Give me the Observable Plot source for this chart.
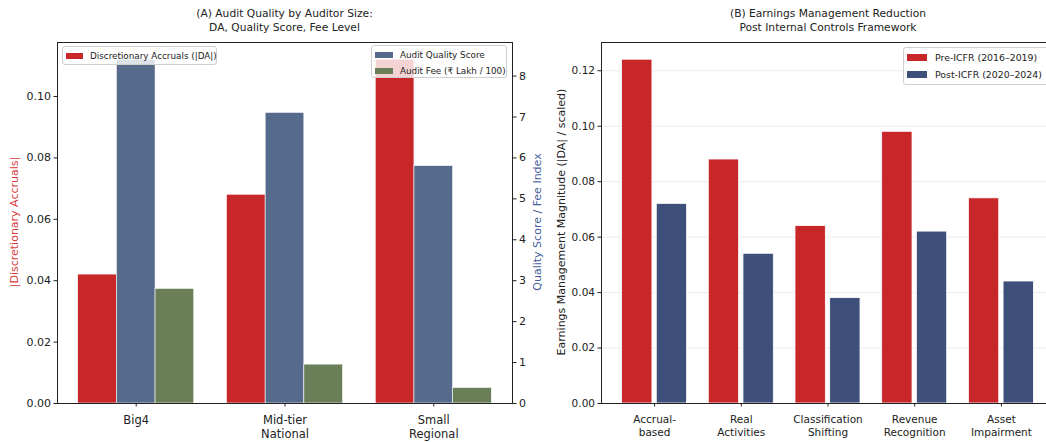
<!DOCTYPE html>
<html>
<head>
<meta charset="utf-8">
<script src="https://cdn.jsdelivr.net/npm/d3@7"></script>
<script src="https://cdn.jsdelivr.net/npm/@observablehq/plot@0.6"></script>
<style>
  html, body { margin: 0; padding: 0; background: #fff; overflow: hidden; }
  #root { position: relative; width: 1046px; height: 442px; font-family: "DejaVu Sans", sans-serif; color: #222; }
  .title { position: absolute; font-size: 10.7px; text-align: center; line-height: 14px; white-space: nowrap; transform: translateX(-50%); }
  .ylab { position: absolute; font-size: 11px; white-space: nowrap; transform: translate(-50%, -50%) rotate(-90deg); }
  .legend { position: absolute; background: rgba(255,255,255,0.8); border: 1px solid #d0d0d0; border-radius: 3px; box-sizing: border-box; }
  .entry { position: absolute; white-space: nowrap; display: flex; align-items: center; }
  .sw { display: inline-block; }
  svg { position: absolute; top: 0; overflow: visible; }
</style>
</head>
<body>
<div id="root"></div>
<script>
// ---------- Data: panel A ----------
const auditorSizes = ["Big4", "Mid-tier\nNational", "Small\nRegional"];
const discretionaryAccruals = [0.042, 0.068, 0.112];
const auditQualityScore = [8.4, 7.1, 5.8];
const auditFee = [2.8, 0.95, 0.38];
const leftTicks = [0, 0.02, 0.04, 0.06, 0.08, 0.10];
const rightTicks = [0, 1, 2, 3, 4, 5, 6, 7, 8];

// ---------- Data: panel B ----------
const emTypes = ["Accrual-\nbased", "Real\nActivities", "Classification\nShifting", "Revenue\nRecognition", "Asset\nImpairment"];
const preICFR = [0.124, 0.088, 0.064, 0.098, 0.074];
const postICFR = [0.072, 0.054, 0.038, 0.062, 0.044];
const bTicks = [0, 0.02, 0.04, 0.06, 0.08, 0.10, 0.12];

const RED = "#c8272a", BLUE_A = "#566a8b", GREEN = "#6a7f57", BLUE_B = "#3e5079";
const FONT = "DejaVu Sans";
const root = document.getElementById("root");

// ---------- Panel A ----------
{
  const W = 525, H = 442;
  const leftMax = d3.max(discretionaryAccruals) * 1.05;
  const rightMax = d3.max(auditQualityScore) * 1.05;
  const k = leftMax / rightMax;
  const bw = 0.26;
  const rows = [];
  auditorSizes.forEach((c, i) => {
    rows.push({i, off: -bw, v: discretionaryAccruals[i], fill: RED});
    rows.push({i, off: 0, v: auditQualityScore[i] * k, fill: BLUE_A});
    rows.push({i, off: bw, v: auditFee[i] * k, fill: GREEN});
  });
  const n = auditorSizes.length;
  const span = (n - 1) + 3 * bw;
  const lo = -1.5 * bw - span * 0.05, hi = (n - 1) + 1.5 * bw + span * 0.05;
  const plot = Plot.plot({
    width: W, height: H,
    marginLeft: 57, marginRight: W - 512, marginTop: 42, marginBottom: 39,
    style: {fontFamily: FONT, fontSize: "11px", color: "#222", background: "transparent"},
    x: {domain: [lo, hi]},
    y: {domain: [0, leftMax]},
    marks: [
      Plot.rect(rows, {x1: d => d.i + d.off - bw / 2, x2: d => d.i + d.off + bw / 2, y1: 0, y2: "v", fill: "fill", stroke: "white", strokeWidth: 0.6}),
      Plot.frame({stroke: "#222", strokeWidth: 1}),
      Plot.axisY({ticks: leftTicks, tickFormat: d3.format(".2f"), tickSize: 3.5, tickPadding: 3, label: null, fontSize: 11}),
      Plot.axisY({anchor: "right", ticks: rightTicks.map(t => t * k), tickFormat: d => String(Math.round(d / k)), tickSize: 3.5, tickPadding: 3, label: null, fontSize: 11}),
      Plot.axisX({ticks: d3.range(n), tickFormat: i => auditorSizes[i], tickSize: 3.5, tickPadding: 7, label: null, fontSize: 11.5, lineHeight: 1.2})
    ]
  });
  plot.style.left = "0px";
  root.appendChild(plot);
}

// ---------- Panel B ----------
{
  const L = 525, W = 540, H = 442;
  const yMax = d3.max(preICFR) * 1.05;
  const bw = 0.35, off = 0.2;
  const rows = [];
  emTypes.forEach((c, i) => {
    rows.push({i, off: -off, v: preICFR[i], fill: RED});
    rows.push({i, off: off, v: postICFR[i], fill: BLUE_B});
  });
  const n = emTypes.length;
  const a = -off - bw / 2, b = (n - 1) + off + bw / 2;
  const lo = a - (b - a) * 0.05, hi = b + (b - a) * 0.05;
  const plot = Plot.plot({
    width: W, height: H,
    marginLeft: 601 - L, marginRight: L + W - 1054, marginTop: 42, marginBottom: 39,
    style: {fontFamily: FONT, fontSize: "10.5px", color: "#222", background: "transparent"},
    x: {domain: [lo, hi]},
    y: {domain: [0, yMax]},
    marks: [
      Plot.gridY(bTicks, {stroke: "#b0b0b0", strokeOpacity: 0.3, strokeWidth: 0.8}),
      Plot.rect(rows, {x1: d => d.i + d.off - bw / 2, x2: d => d.i + d.off + bw / 2, y1: 0, y2: "v", fill: "fill", stroke: "white", strokeWidth: 0.8}),
      Plot.frame({stroke: "#222", strokeWidth: 1}),
      Plot.axisY({ticks: bTicks, tickFormat: d3.format(".2f"), tickSize: 3.5, tickPadding: 3, label: null, fontSize: 10.5}),
      Plot.axisX({ticks: d3.range(n), tickFormat: i => emTypes[i], tickSize: 3.5, tickPadding: 7, label: null, fontSize: 10.5, lineHeight: 1.2})
    ]
  });
  plot.style.left = L + "px";
  root.appendChild(plot);
}

// ---------- Titles & labels ----------
function addDiv(cls, html, style) {
  const d = document.createElement("div");
  d.className = cls; d.innerHTML = html;
  Object.assign(d.style, style);
  root.appendChild(d);
  return d;
}
addDiv("title", "(A) Audit Quality by Auditor Size:<br>DA, Quality Score, Fee Level", {left: "284.5px", top: "7px"});
addDiv("title", "(B) Earnings Management Reduction<br>Post Internal Controls Framework", {left: "828px", top: "7px"});
addDiv("ylab", "|Discretionary Accruals|", {left: "14px", top: "222px", color: "#d83c3c"});
addDiv("ylab", "Quality Score / Fee Index", {left: "537px", top: "222px", color: "#45609c"});
addDiv("ylab", "Earnings Management Magnitude (|DA| / scaled)", {left: "561px", top: "222px", color: "#222"});

// ---------- Legends ----------
function legend(box, entries, font, sw) {
  const lg = addDiv("legend", "", {left: box[0] + "px", top: box[1] + "px", width: box[2] + "px", height: box[3] + "px"});
  entries.forEach(([label, color, x, y]) => {
    const e = document.createElement("div");
    e.className = "entry";
    e.style.left = x + "px"; e.style.top = y + "px"; e.style.fontSize = font + "px";
    e.style.height = "0px";
    e.innerHTML = `<span class="sw" style="width:${sw[0]}px;height:${sw[1]}px;background:${color};margin-right:${sw[2]}px"></span><span>${label}</span>`;
    lg.appendChild(e);
  });
}
legend([62, 46, 155, 19], [["Discretionary Accruals (|DA|)", RED, 3, 9]], 8.8, [17, 6, 7]);
legend([371, 45, 136, 33], [["Audit Quality Score", BLUE_A, 3, 9], ["Audit Fee (₹ Lakh / 100)", GREEN, 3, 24.5]], 8.8, [18, 6, 7]);
legend([903, 47, 160, 38], [["Pre-ICFR (2016–2019)", RED, 3, 9.5], ["Post-ICFR (2020–2024)", BLUE_B, 3, 26.5]], 9.4, [20, 7, 8]);
</script>
</body>
</html>
